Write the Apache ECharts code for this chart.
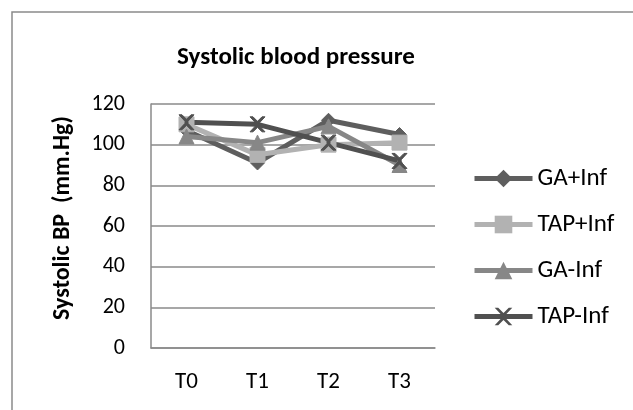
<!DOCTYPE html>
<html>
<head>
<meta charset="utf-8">
<script src="https://cdn.jsdelivr.net/npm/echarts@6/dist/echarts.min.js"></script>
<style>
  html, body { margin: 0; padding: 0; background: #fff; }
  #chart { width: 633px; height: 410px; }
</style>
</head>
<body>
<div id="chart"></div>
<script>
const categories = ["T0", "T1", "T2", "T3"];
const gaPlusInf = [107, 91, 112, 105];
const tapPlusInf = [110, 95, 100, 101];
const gaMinusInf = [104, 101, 109, 90];
const tapMinusInf = [111, 110, 101, 92];
const yTicks = [0, 20, 40, 60, 80, 100, 120];

const FONT = "Carlito, Lato, 'Open Sans', sans-serif";

const buildSeries = (name, data, color, symbol, size) => ({
  name,
  type: "line",
  data,
  symbol,
  symbolSize: size,
  lineStyle: { color, width: 5 },
  itemStyle: { color, borderColor: color },
});

const chart = echarts.init(document.getElementById("chart"));

chart.setOption({
  animation: false,
  backgroundColor: "#fff",
  graphic: [
    {
      type: "rect",
      shape: { x: 12, y: 12, width: 700, height: 500 },
      style: { fill: "none", stroke: "#8a8a8a", lineWidth: 1.5 },
      silent: true,
    },
  ],
  title: {
    text: "Systolic blood pressure",
    left: 291,
    top: 40,
    textAlign: "center",
    textStyle: { fontFamily: FONT, fontSize: 25, fontWeight: "bold", color: "#000" },
  },
  grid: { left: 151, right: 198, top: 104, bottom: 62 },
  xAxis: {
    type: "category",
    data: categories,
    boundaryGap: true,
    axisLine: { lineStyle: { color: "#8a8a8a", width: 1.5 } },
    axisTick: { show: false },
    axisLabel: { color: "#000", fontFamily: FONT, fontSize: 23, margin: 23 },
  },
  yAxis: {
    type: "value",
    min: yTicks[0],
    max: yTicks[yTicks.length - 1],
    interval: 20,
    name: "Systolic BP  (mm.Hg)",
    nameLocation: "middle",
    nameGap: 76,
    nameTextStyle: {
      fontFamily: FONT, fontSize: 24, fontWeight: "bold", color: "#000",
      padding: [0, 0, 0, 16],
    },
    axisLine: { show: true, lineStyle: { color: "#8a8a8a", width: 1.5 } },
    axisTick: { show: false },
    axisLabel: { color: "#000", fontFamily: FONT, fontSize: 22, margin: 26 },
    splitLine: { lineStyle: { color: "#8a8a8a", width: 1.5 } },
  },
  legend: {
    orient: "vertical",
    left: 467,
    top: 161,
    itemGap: 21,
    itemWidth: 58,
    itemHeight: 22,
    lineStyle: { width: 5 },
    textStyle: {
      fontFamily: FONT, fontSize: 25, lineHeight: 25, color: "#000",
    },
    data: ["GA+Inf", "TAP+Inf", "GA-Inf", "TAP-Inf"],
  },
  series: [
    buildSeries("GA+Inf", gaPlusInf, "#5e5e5e", "diamond", 14),
    buildSeries("TAP+Inf", tapPlusInf, "#b2b2b2", "rect", 15),
    buildSeries("GA-Inf", gaMinusInf, "#878787", "triangle", 15),
    buildSeries("TAP-Inf", tapMinusInf, "#505050",
      "path://M0,0 L2,0 L5,3 L8,0 L10,0 L6,4.3 L6,5.7 L10,10 L8,10 L5,7 L2,10 L0,10 L4,5.7 L4,4.3 Z", 15),
  ],
});
</script>
</body>
</html>
